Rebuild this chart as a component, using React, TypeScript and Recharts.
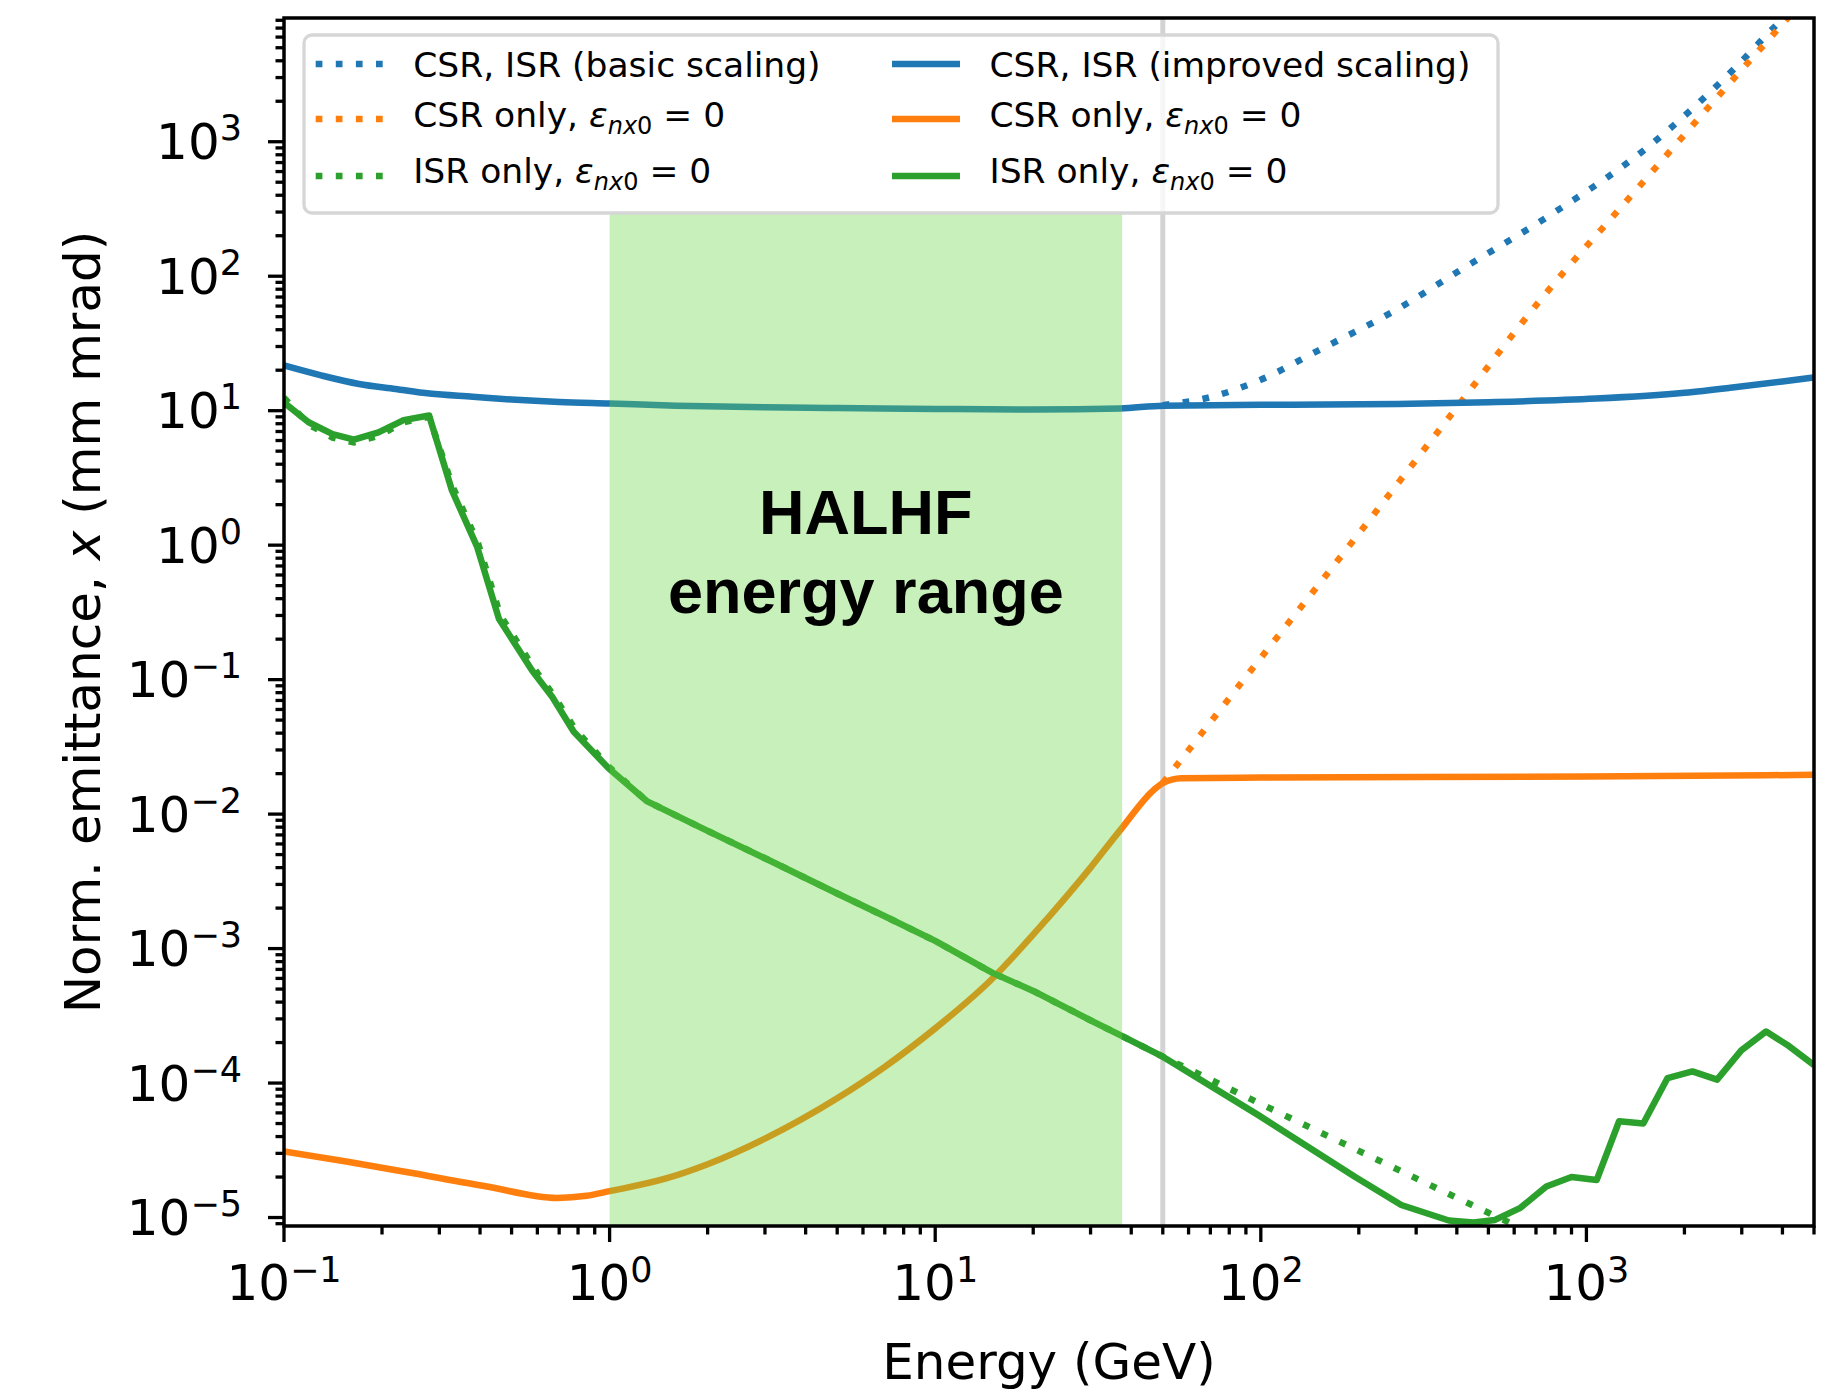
import React from 'react';
import { LineChart, Line, XAxis, YAxis, ReferenceArea, ReferenceLine, ReferenceDot } from 'recharts';

// axes
const xDomain = [0.1, 5000];
const yDomain = [8.65e-6, 8320];
const xMajorTicks = [0.1, 1, 10, 100, 1000];
const xMajorExp = ['\u22121', '0', '1', '2', '3'];
const yMajorTicks = [1e-5, 1e-4, 1e-3, 1e-2, 1e-1, 1, 10, 100, 1000];
const yMajorExp = ['\u22125', '\u22124', '\u22123', '\u22122', '\u22121', '0', '1', '2', '3'];
const minorSteps = [2, 3, 4, 5, 6, 7, 8, 9];

// CSR, ISR (improved scaling)
const blueSolidE = [0.1, 0.13, 0.17, 0.22, 0.28, 0.38, 0.5, 0.7, 1, 1.6, 3, 5, 10, 20, 37, 50, 100, 263, 500, 1070, 2000, 2767, 4000, 5000];
const blueSolidV = [21.7, 18.3, 15.8, 14.5, 13.4, 12.7, 12.1, 11.6, 11.3, 10.9, 10.6, 10.45, 10.3, 10.2, 10.4, 10.9, 11.05, 11.2, 11.55, 12.3, 13.6, 14.8, 16.5, 17.7];
// CSR, ISR (basic scaling)
const blueDotE = [50, 70, 100, 150, 263, 422, 769, 1539, 2870, 3853, 5000];
const blueDotV = [11.0, 12.6, 17, 28, 57, 116, 282, 907, 3565, 7480, 13500];

// CSR only
const orangeSolidE = [0.1, 0.157, 0.24, 0.42, 0.69, 0.85, 1, 1.5, 2, 3, 5, 7, 10, 14.7, 22, 30, 37, 47, 50, 57, 100, 1000, 5000];
const orangeSolidV = [3.1e-5, 2.6e-5, 2.17e-5, 1.7e-5, 1.4e-5, 1.45e-5, 1.57e-5, 1.96e-5, 2.49e-5, 3.86e-5, 7.7e-5, 1.32e-4, 2.55e-4, 5.72e-4, 1.65e-3, 4.0e-3, 7.6e-3, 0.0152, 0.017, 0.0185, 0.0187, 0.019, 0.0196];
const orangeDotE = [50, 100, 200, 379, 741, 1364, 2767, 4036, 5000];
const orangeDotV = [0.017, 0.145, 1.22, 8.95, 71.8, 390, 2760, 7690, 14000];

// ISR only
const greenSolidE = [0.1, 0.119, 0.141, 0.164, 0.195, 0.233, 0.279, 0.328, 0.392, 0.457, 0.578, 0.666, 0.776, 0.993, 1.3, 2, 3, 5, 7, 10, 15, 20, 30, 37, 50, 98, 195, 270, 378, 450, 524, 627, 753, 900, 1075, 1260, 1495, 1775, 2115, 2520, 2990, 3565, 4140, 5000];
const greenSolidV = [11.5, 8.2, 6.7, 6.1, 6.9, 8.5, 9.2, 2.55, 0.97, 0.284, 0.117, 0.0745, 0.041, 0.0219, 0.0125, 7.5e-3, 4.7e-3, 2.57e-3, 1.74e-3, 1.14e-3, 6.6e-4, 4.84e-4, 2.93e-4, 2.27e-4, 1.57e-4, 5.8e-5, 2.0e-5, 1.24e-5, 9.5e-6, 9.2e-6, 9.6e-6, 1.18e-5, 1.7e-5, 2.0e-5, 1.9e-5, 5.2e-5, 5.0e-5, 1.09e-4, 1.22e-4, 1.06e-4, 1.75e-4, 2.42e-4, 1.92e-4, 1.36e-4];
const greenDotE = [0.1, 0.119, 0.141, 0.164, 0.195, 0.233, 0.279, 0.33, 0.395, 0.462, 0.585, 0.672, 0.785, 1.0, 1.3, 2, 3, 5, 7, 10, 15, 20, 30, 37, 50, 100, 200, 400, 700];
const greenDotV = [12.5, 7.9, 6.3, 5.8, 6.5, 8.2, 9.0, 2.7, 1.02, 0.3, 0.122, 0.077, 0.0425, 0.0222, 0.0125, 7.5e-3, 4.7e-3, 2.57e-3, 1.74e-3, 1.14e-3, 6.6e-4, 4.84e-4, 2.93e-4, 2.27e-4, 1.57e-4, 7.0e-5, 3.13e-5, 1.4e-5, 7.4e-6];

// HALHF band and the 50 GeV marker
const bandX = [1, 37.5];
const bandTop = 300;
const markerE = 50;

const BLUE = '#1f77b4';
const ORANGE = '#ff7f0e';
const GREEN = '#2ca02c';
const DOTS = '6.7 13.4';
const LW = 6.5;
const FONT = 'DejaVu Sans';

const toPts = (e: number[], v: number[]) => e.map((x, i) => ({ x, y: v[i] }));

const withMinor = (majors: number[], lo: number, hi: number) => {
  const out: number[] = [];
  majors.concat([majors[0] / 10, majors[majors.length - 1] * 10]).forEach((m) => {
    out.push(m);
    minorSteps.forEach((s) => out.push(m * s));
  });
  return out.filter((t) => t >= lo && t <= hi).sort((a, b) => a - b);
};

const xTicks = withMinor(xMajorTicks, xDomain[0], xDomain[1]);
const yTicks = withMinor(yMajorTicks, yDomain[0], yDomain[1]);

const majorIndex = (list: number[], v: number) =>
  list.findIndex((m) => Math.abs(Math.log10(m) - Math.log10(v)) < 1e-6);

const XTick = (props: any) => {
  const { x, y, payload } = props;
  const i = majorIndex(xMajorTicks, payload.value);
  const major = i >= 0;
  return (
    <g>
      <line x1={x} x2={x} y1={y} y2={y + (major ? 16 : 8.5)} stroke="#000" strokeWidth={3.3} />
      {major && (
        <text x={x} y={y + 74} textAnchor="middle" fontFamily={FONT} fontSize={50} fill="#000">
          10<tspan dy={-18.5} fontSize={35}>{xMajorExp[i]}</tspan>
        </text>
      )}
    </g>
  );
};

const YTick = (props: any) => {
  const { x, y, payload } = props;
  const i = majorIndex(yMajorTicks, payload.value);
  const major = i >= 0;
  return (
    <g>
      <line x1={x} x2={x - (major ? 16 : 8.5)} y1={y} y2={y} stroke="#000" strokeWidth={3.3} />
      {major && (
        <text x={x - 42} y={y + 17.6} textAnchor="end" fontFamily={FONT} fontSize={50} fill="#000">
          10<tspan dy={-19} fontSize={35}>{yMajorExp[i]}</tspan>
        </text>
      )}
    </g>
  );
};

const XLabel = (props: any) => {
  const vb = props.viewBox;
  return (
    <text x={vb.x + vb.width / 2} y={vb.y + 153} textAnchor="middle" fontFamily={FONT} fontSize={50} fill="#000">
      Energy (GeV)
    </text>
  );
};

const YLabel = (props: any) => {
  const vb = props.viewBox;
  const cx = vb.x + 100;
  const cy = vb.y + vb.height / 2;
  return (
    <text x={cx} y={cy} transform={`rotate(-90, ${cx}, ${cy})`} textAnchor="middle" fontFamily={FONT} fontSize={50} fill="#000">
      Norm. emittance, <tspan fontStyle="italic">x</tspan> (mm mrad)
    </text>
  );
};

const HalhfLabel = (props: any) => {
  const vb = props.viewBox || { x: 0, y: 0, width: 0, height: 0 };
  const cx = vb.x + (vb.width || 0) / 2;
  const cy = vb.y + (vb.height || 0) / 2;
  return (
    <text textAnchor="middle" fontFamily="Liberation Sans" fontWeight="bold" fontSize={63} fill="#000">
      <tspan x={cx} y={cy - 11}>HALHF</tspan>
      <tspan x={cx} y={cy + 68}>energy range</tspan>
    </text>
  );
};

const legendItems = [
  { name: 'CSR, ISR (basic scaling)', math: false, color: BLUE, dotted: true },
  { name: 'CSR only, ', math: true, color: ORANGE, dotted: true },
  { name: 'ISR only, ', math: true, color: GREEN, dotted: true },
  { name: 'CSR, ISR (improved scaling)', math: false, color: BLUE, dotted: false },
  { name: 'CSR only, ', math: true, color: ORANGE, dotted: false },
  { name: 'ISR only, ', math: true, color: GREEN, dotted: false },
];
const legendRowY = [64, 119, 176];
const legendRowBase = [76.7, 126.7, 183.3];
const legendColX = [315.7, 892];

const LegendBox = () => (
  <svg width={1825} height={1392} style={{ position: 'absolute', left: 0, top: 0, pointerEvents: 'none' }}>
    <rect x={304} y={35} width={1194} height={178} rx={8} ry={8} fill="rgba(255,255,255,0.8)" stroke="#d6d6d6" strokeWidth={3.3} />
    {legendItems.map((it, k) => {
      const col = Math.floor(k / 3);
      const row = k % 3;
      const hx = legendColX[col];
      const tx = hx + 97.5;
      const base = legendRowBase[row];
      return (
        <g key={k}>
          <line
            x1={hx}
            x2={hx + 68}
            y1={legendRowY[row]}
            y2={legendRowY[row]}
            stroke={it.color}
            strokeWidth={LW}
            strokeDasharray={it.dotted ? DOTS : undefined}
          />
          <text x={tx} y={base} fontFamily={FONT} fontSize={34.5} fill="#000">
            {it.name}
            {it.math && (
              <>
                <tspan fontStyle="italic">{'\u03b5'}</tspan>
                <tspan dy={7} fontSize={24} fontStyle="italic">nx</tspan>
                <tspan fontSize={24}>0</tspan>
                <tspan dy={-7}>{' = 0'}</tspan>
              </>
            )}
          </text>
        </g>
      );
    })}
  </svg>
);

export default function App() {
  return (
    <div style={{ position: 'absolute', left: 0, top: 0, width: 1825, height: 1392, background: '#fff' }}>
      <LineChart width={1825} height={1392} margin={{ top: 18, right: 11, left: 0, bottom: 0 }}>
        <XAxis
          type="number"
          dataKey="x"
          scale="log"
          domain={xDomain}
          allowDataOverflow
          ticks={xTicks}
          interval={0}
          tick={<XTick />}
          tickLine={false}
          axisLine={false}
          tickSize={0}
          tickMargin={0}
          height={166}
          label={<XLabel />}
        />
        <YAxis
          type="number"
          dataKey="y"
          scale="log"
          domain={yDomain}
          allowDataOverflow
          ticks={yTicks}
          interval={0}
          tick={<YTick />}
          tickLine={false}
          axisLine={false}
          tickSize={0}
          tickMargin={0}
          width={284}
          label={<YLabel />}
        />
        <ReferenceLine x={markerE} stroke="#d3d3d3" strokeWidth={5} zIndex={50} ifOverflow="hidden" />
        <Line data={toPts(blueDotE, blueDotV)} dataKey="y" type="monotone" stroke={BLUE} strokeWidth={LW} strokeDasharray={DOTS} dot={false} isAnimationActive={false} />
        <Line data={toPts(orangeDotE, orangeDotV)} dataKey="y" type="monotone" stroke={ORANGE} strokeWidth={LW} strokeDasharray={DOTS} dot={false} isAnimationActive={false} />
        <Line data={toPts(greenDotE, greenDotV)} dataKey="y" type="linear" stroke={GREEN} strokeWidth={LW} strokeDasharray={DOTS} dot={false} isAnimationActive={false} />
        <Line data={toPts(blueSolidE, blueSolidV)} dataKey="y" type="monotone" stroke={BLUE} strokeWidth={LW} strokeLinejoin="round" dot={false} isAnimationActive={false} />
        <Line data={toPts(orangeSolidE, orangeSolidV)} dataKey="y" type="monotone" stroke={ORANGE} strokeWidth={LW} strokeLinejoin="round" dot={false} isAnimationActive={false} />
        <Line data={toPts(greenSolidE, greenSolidV)} dataKey="y" type="linear" stroke={GREEN} strokeWidth={LW} strokeLinejoin="round" dot={false} isAnimationActive={false} />
        <ReferenceArea x1={bandX[0]} x2={bandX[1]} y1={yDomain[0]} y2={bandTop} fill="rgb(104,214,65)" fillOpacity={0.364} stroke="none" zIndex={450} ifOverflow="hidden" />
        <ReferenceArea x1={xDomain[0]} x2={xDomain[1]} y1={yDomain[0]} y2={yDomain[1]} fill="none" fillOpacity={0} stroke="#000" strokeWidth={3.5} zIndex={460} ifOverflow="visible" />
        <ReferenceDot x={Math.sqrt(bandX[0] * bandX[1])} y={1} r={0} fill="none" stroke="none" zIndex={470} label={<HalhfLabel />} />
      </LineChart>
      <LegendBox />
    </div>
  );
}
